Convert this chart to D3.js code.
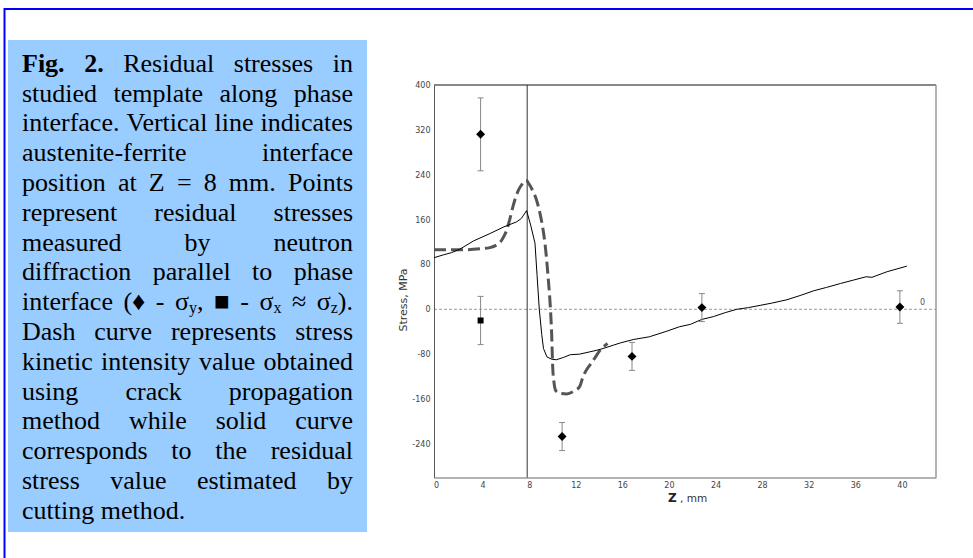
<!DOCTYPE html>
<html>
<head>
<meta charset="utf-8">
<script src="https://cdn.jsdelivr.net/npm/d3@7"></script>
<style>
  html, body { margin: 0; padding: 0; background: #fff; overflow: hidden; }
  svg { display: block; }
</style>
</head>
<body>
<svg id="fig" width="973" height="558"></svg>
<script>
// ---- Axis ticks ----
const zTicks = [0, 4, 8, 12, 16, 20, 24, 28, 32, 36, 40];
const stressTicks = [-240, -160, -80, 0, 80, 160, 240, 320, 400];

// ---- Residual stress by cutting method (solid curve) ----
const cutZ = [0, 0.8, 1.5, 2.2, 3.4, 4.8, 6.0, 7.1, 7.5, 7.95, 8.3, 8.67, 8.85, 9.04, 9.25, 9.4, 9.7, 10.1, 10.5,
  11.1, 11.7, 12.5, 14.0, 14.5, 15.4, 16.0, 17.1, 18.5, 20.0, 21.1, 22.0, 23.0, 24.0, 25.0, 26.0, 27.0, 28.0,
  29.0, 30.3, 31.5, 32.6, 33.7, 34.9, 36.0, 37.1, 37.6, 38.9, 40.6];
const cutStress = [92, 97, 101, 107, 122, 135, 147, 156, 162, 176, 150, 118, 60, 0, -45, -70, -85, -89, -90,
  -86, -81, -80, -73, -70, -64, -60, -54, -49, -39, -31, -27, -18, -13, -6, 0, 3, 7,
  11, 17, 25, 33, 39, 46, 52, 58, 57, 67, 77];

// ---- Stress from crack propagation method (dashed curve) ----
const crackZ = [0, 1, 2.5, 4.0, 4.8, 5.4, 5.7, 6.0, 6.24, 6.5, 6.8, 7.24, 7.6, 7.9, 8.2, 8.53, 8.8, 9.1, 9.3,
  9.53, 9.82, 10.0, 10.1, 10.19, 10.3, 10.45, 10.8, 11.4, 12.0, 12.5, 12.8, 13.1, 13.4, 13.8, 14.3, 14.9];
const crackStress = [106, 106, 106, 108, 110, 115, 120, 130, 141, 160, 185, 212, 224, 230, 222, 209, 195, 171, 150,
  117, 52, 0, -43, -102, -130, -145, -150, -151, -146, -138, -120, -108, -99, -87, -72, -61];

// ---- Neutron diffraction points ----
const sigmaYZ = [4, 11, 17, 23, 40];
const sigmaY = [312, -227, -84, 3, 4];
const sigmaYErr = [65, 25, 25, 25, 29];
const sigmaXZ = [4];
const sigmaX = [-20];
const sigmaXErr = [43];

// ---- Caption (^ = bold word, _c = subscript character) ----
const captionLines = [
  "^Fig. ^2. Residual stresses in",
  "studied template along phase",
  "interface. Vertical line indicates",
  "austenite-ferrite interface",
  "position at Z = 8 mm. Points",
  "represent residual stresses",
  "measured by neutron",
  "diffraction parallel to phase",
  "interface (\u2666 - \u03c3_y, \u25a0 - \u03c3_x \u2248 \u03c3_z).",
  "Dash curve represents stress",
  "kinetic intensity value obtained",
  "using crack propagation",
  "method while solid curve",
  "corresponds to the residual",
  "stress value estimated by",
  "cutting method."
];

const svg = d3.select("#fig");

// page frame
svg.append("rect")
  .attr("x", 4.5).attr("y", 9).attr("width", 1200).attr("height", 800)
  .attr("fill", "none").attr("stroke", "#0000ff").attr("stroke-width", 2);

// caption panel
svg.append("rect")
  .attr("x", 8).attr("y", 40).attr("width", 359).attr("height", 492)
  .attr("fill", "#99ccff");

const capG = svg.append("g")
  .attr("font-family", "'Liberation Serif', 'Times New Roman', serif")
  .attr("font-size", 26).attr("fill", "#000");

const capLeft = 22, capRight = 353, capTop = 71.7, capLead = 29.8;
const subSize = 16, subShift = 3;

function parseWord(w) {
  let bold = false;
  if (w.startsWith("^")) { bold = true; w = w.slice(1); }
  const segs = [];
  let buf = "";
  for (let i = 0; i < w.length; i++) {
    if (w[i] === "_" && i + 1 < w.length) {
      if (buf) segs.push({ t: buf, sub: false });
      segs.push({ t: w[i + 1], sub: true });
      buf = ""; i++;
    } else buf += w[i];
  }
  if (buf) segs.push({ t: buf, sub: false });
  return { bold, segs };
}

function drawWord(g, word, x, y) {
  const t = g.append("text").attr("x", x).attr("y", y)
    .attr("font-weight", word.bold ? "bold" : "normal");
  let shifted = false;
  word.segs.forEach(s => {
    const ts = t.append("tspan").text(s.t);
    if (s.sub && !shifted) { ts.attr("font-size", subSize).attr("dy", subShift); shifted = true; }
    else if (!s.sub && shifted) { ts.attr("dy", -subShift); shifted = false; }
    else if (s.sub) ts.attr("font-size", subSize);
  });
  return t;
}

captionLines.forEach((line, i) => {
  const y = capTop + i * capLead;
  const words = line.split(" ").map(parseWord);
  const nodes = words.map(w => drawWord(capG, w, 0, y));
  const widths = nodes.map(n => n.node().getComputedTextLength());
  const total = d3.sum(widths);
  const last = i === captionLines.length - 1;
  const gap = (last || words.length < 2) ? 6.5 : (capRight - capLeft - total) / (words.length - 1);
  let x = capLeft;
  nodes.forEach((n, j) => { n.attr("x", x); x += widths[j] + gap; });
});

// ---- Chart ----
const x = d3.scaleLinear().domain([0, 43.1]).range([434, 936]);
const y = d3.scaleLinear().domain([-300, 400]).range([477.5, 85]);

const chart = svg.append("g").attr("font-family", "'DejaVu Sans', Verdana, sans-serif");

chart.append("rect").attr("x", 434).attr("y", 85).attr("width", 502).attr("height", 392.5).attr("fill", "#fff");

// zero reference line
chart.append("line")
  .attr("x1", x(0)).attr("x2", x(43.1)).attr("y1", y(0)).attr("y2", y(0))
  .attr("stroke", "#999").attr("stroke-width", 1).attr("stroke-dasharray", "3,2");
chart.append("text").attr("x", 920).attr("y", y(0) - 4.5)
  .attr("font-size", 8).attr("fill", "#555").text("0");

// frame
chart.append("line").attr("x1", 434).attr("x2", 936).attr("y1", 85).attr("y2", 85)
  .attr("stroke", "#111").attr("stroke-width", 1);
chart.append("line").attr("x1", 936).attr("x2", 936).attr("y1", 85).attr("y2", 477.5)
  .attr("stroke", "#999").attr("stroke-width", 1.5);

// axes
const xAxis = chart.append("g").attr("transform", "translate(0,477.5)")
  .call(d3.axisBottom(x).tickValues(zTicks).tickSize(0).tickPadding(4.5).tickFormat(d => String(d)));
xAxis.select(".domain").attr("stroke", "#666");
xAxis.selectAll("text").attr("font-size", 8).attr("fill", "#444").attr("dx", 2)
  .attr("font-family", "'DejaVu Sans', Verdana, sans-serif");

const yAxis = chart.append("g").attr("transform", "translate(434,0)")
  .call(d3.axisLeft(y).tickValues(stressTicks).tickSize(0).tickPadding(3.5).tickFormat(d => String(d)));
yAxis.select(".domain").attr("stroke", "#555");
yAxis.selectAll("text").attr("font-size", 8).attr("fill", "#444")
  .attr("font-family", "'DejaVu Sans', Verdana, sans-serif");

// axis titles
chart.append("text")
  .attr("transform", "translate(407,300) rotate(-90)")
  .attr("text-anchor", "middle").attr("font-size", 11).attr("fill", "#333")
  .text("Stress, MPa");
const xt = chart.append("text").attr("x", 668).attr("y", 502).attr("fill", "#222");
xt.append("tspan").attr("font-size", 12).attr("font-weight", "bold").text("Z");
xt.append("tspan").attr("font-size", 10.5).attr("fill", "#333").text(" , mm");

// interface position
chart.append("line").attr("x1", x(8)).attr("x2", x(8)).attr("y1", 85).attr("y2", 477.5)
  .attr("stroke", "#333").attr("stroke-width", 1);

// curves
const crackLine = d3.line().x((d, i) => x(crackZ[i])).y((d, i) => y(crackStress[i])).curve(d3.curveMonotoneX);
chart.append("path").datum(crackStress).attr("d", crackLine)
  .attr("fill", "none").attr("stroke", "#555").attr("stroke-width", 3)
  .attr("stroke-dasharray", "12,5");

const cutLine = d3.line().x((d, i) => x(cutZ[i])).y((d, i) => y(cutStress[i]));
chart.append("path").datum(cutStress).attr("d", cutLine)
  .attr("fill", "none").attr("stroke", "#000").attr("stroke-width", 1);

// error bars and markers
function errorBars(zs, vs, es) {
  const g = chart.append("g").attr("stroke", "#888").attr("stroke-width", 1);
  zs.forEach((z, i) => {
    const cx = x(z), top = y(vs[i] + es[i]), bot = y(vs[i] - es[i]);
    g.append("line").attr("x1", cx).attr("x2", cx).attr("y1", top).attr("y2", bot);
    g.append("line").attr("x1", cx - 3).attr("x2", cx + 3).attr("y1", top).attr("y2", top);
    g.append("line").attr("x1", cx - 3).attr("x2", cx + 3).attr("y1", bot).attr("y2", bot);
  });
}
errorBars(sigmaYZ, sigmaY, sigmaYErr);
errorBars(sigmaXZ, sigmaX, sigmaXErr);

const diamond = d3.symbol().type(d3.symbolSquare).size(40);
chart.append("g").selectAll("path").data(sigmaY).join("path")
  .attr("d", diamond)
  .attr("transform", (d, i) => `translate(${x(sigmaYZ[i])},${y(d)}) rotate(45)`)
  .attr("fill", "#000");

const square = d3.symbol().type(d3.symbolSquare).size(36);
chart.append("g").selectAll("path").data(sigmaX).join("path")
  .attr("d", square)
  .attr("transform", (d, i) => `translate(${x(sigmaXZ[i])},${y(d)})`)
  .attr("fill", "#000");
</script>
</body>
</html>
